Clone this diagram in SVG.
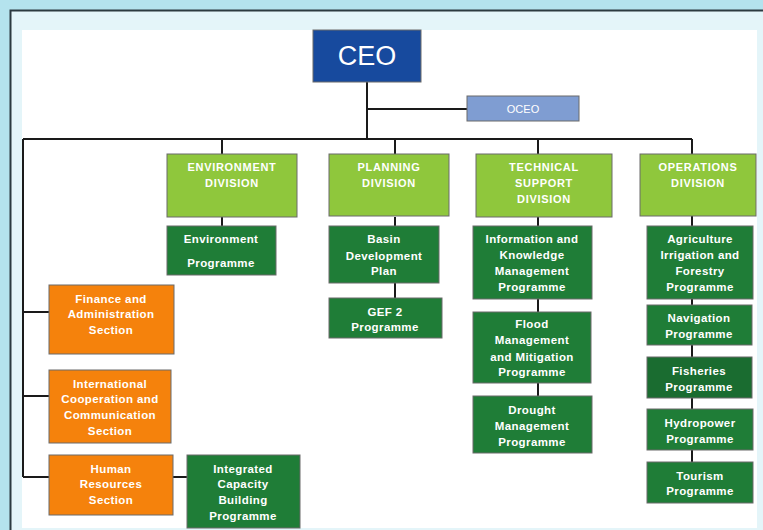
<svg xmlns="http://www.w3.org/2000/svg" width="763" height="530" viewBox="0 0 763 530">
<style>
.box{stroke:#6a6a6a;stroke-width:1}
.ceo{fill:#174a9e}
.oceo{fill:#7f9dd2}
.div{fill:#8fc73c}
.prog{fill:#1f7d37}
.sec{fill:#f5820c}
text{font-family:"Liberation Sans",Arial,sans-serif;fill:#ffffff;text-anchor:middle}
.t{font-size:11.5px;font-weight:bold;letter-spacing:0.4px}
.d{font-size:11px;font-weight:bold;letter-spacing:0.7px}
.c{stroke:#1a1a1a;stroke-width:2;fill:none}
</style>
<rect x="0" y="0" width="763" height="530" fill="#b4e3ee"/>
<rect x="10.5" y="10.5" width="770" height="540" fill="#e4f5f9" stroke="#2c3a40" stroke-width="2"/>
<rect x="22" y="30" width="735" height="498" fill="#ffffff"/>
<g id="connectors">
<path class="c" d="M367 82V139M367 109H467M23 139H692M222 139V154M395 139V154M538 139V154M692 139V154"/>
<path class="c" d="M222 217V226M395 217V226M395 283V298M538 217V226M538 299V312M538 383V396"/>
<path class="c" d="M692 216V226M692 299V305M692 345V357M692 398V409M692 450V462"/>
<path class="c" d="M23 139V477M23 312H49M23 396H49M23 477H49M173 477H187"/>
</g>
<g id="ceo"><rect class="box ceo" x="313" y="30" width="108" height="52"/><text x="367" y="65" style="font-size:27px">CEO</text></g>
<g id="oceo"><rect class="box oceo" x="467" y="96" width="112" height="25"/><text x="523" y="113" style="font-size:11px">OCEO</text></g>
<g id="env-div"><rect class="box div" x="167" y="154" width="130" height="63"/><text class="d" x="232" y="171">ENVIRONMENT</text><text class="d" x="232" y="187">DIVISION</text></g>
<g id="plan-div"><rect class="box div" x="329" y="154" width="120" height="62"/><text class="d" x="389" y="171">PLANNING</text><text class="d" x="389" y="187">DIVISION</text></g>
<g id="tech-div"><rect class="box div" x="476" y="154" width="136" height="63"/><text class="d" x="544" y="171">TECHNICAL</text><text class="d" x="544" y="187">SUPPORT</text><text class="d" x="544" y="203">DIVISION</text></g>
<g id="ops-div"><rect class="box div" x="640" y="154" width="116" height="62"/><text class="d" x="698" y="171">OPERATIONS</text><text class="d" x="698" y="187">DIVISION</text></g>
<g id="env-prog"><rect class="box prog" x="167" y="226" width="109" height="49"/><text class="t" x="221" y="243">Environment</text><text class="t" x="221" y="267">Programme</text></g>
<g id="basin"><rect class="box prog" x="329" y="226" width="110" height="57"/><text class="t" x="384" y="243">Basin</text><text class="t" x="384" y="260">Development</text><text class="t" x="384" y="275">Plan</text></g>
<g id="gef"><rect class="box prog" x="329" y="298" width="113" height="40"/><text class="t" x="385" y="316">GEF 2</text><text class="t" x="385" y="331">Programme</text></g>
<g id="info"><rect class="box prog" x="473" y="226" width="119" height="73"/><text class="t" x="532" y="243">Information and</text><text class="t" x="532" y="259">Knowledge</text><text class="t" x="532" y="275">Management</text><text class="t" x="532" y="291">Programme</text></g>
<g id="flood"><rect class="box prog" x="473" y="312" width="118" height="71"/><text class="t" x="532" y="328">Flood</text><text class="t" x="532" y="344">Management</text><text class="t" x="532" y="361">and Mitigation</text><text class="t" x="532" y="376">Programme</text></g>
<g id="drought"><rect class="box prog" x="473" y="396" width="119" height="57"/><text class="t" x="532" y="414">Drought</text><text class="t" x="532" y="430">Management</text><text class="t" x="532" y="446">Programme</text></g>
<g id="agri"><rect class="box prog" x="647" y="226" width="106" height="73"/><text class="t" x="700" y="243">Agriculture</text><text class="t" x="700" y="259">Irrigation and</text><text class="t" x="700" y="275">Forestry</text><text class="t" x="700" y="291">Programme</text></g>
<g id="nav"><rect class="box prog" x="647" y="305" width="105" height="40"/><text class="t" x="699" y="322">Navigation</text><text class="t" x="699" y="338">Programme</text></g>
<g id="fish"><rect class="box prog" x="647" y="357" width="105" height="41" style="fill:#1a6c30"/><text class="t" x="699" y="375">Fisheries</text><text class="t" x="699" y="391">Programme</text></g>
<g id="hydro"><rect class="box prog" x="647" y="409" width="106" height="41"/><text class="t" x="700" y="427">Hydropower</text><text class="t" x="700" y="443">Programme</text></g>
<g id="tourism"><rect class="box prog" x="647" y="462" width="106" height="41"/><text class="t" x="700" y="480">Tourism</text><text class="t" x="700" y="495">Programme</text></g>
<g id="finance"><rect class="box sec" x="49" y="285" width="125" height="69"/><text class="t" x="111" y="303">Finance and</text><text class="t" x="111" y="318">Administration</text><text class="t" x="111" y="334">Section</text></g>
<g id="intl"><rect class="box sec" x="49" y="370" width="122" height="73"/><text class="t" x="110" y="388">International</text><text class="t" x="110" y="403">Cooperation and</text><text class="t" x="110" y="419">Communication</text><text class="t" x="110" y="435">Section</text></g>
<g id="hr"><rect class="box sec" x="49" y="455" width="124" height="60"/><text class="t" x="111" y="473">Human</text><text class="t" x="111" y="488">Resources</text><text class="t" x="111" y="504">Section</text></g>
<g id="icbp"><rect class="box prog" x="187" y="455" width="113" height="73"/><text class="t" x="243" y="473">Integrated</text><text class="t" x="243" y="488">Capacity</text><text class="t" x="243" y="504">Building</text><text class="t" x="243" y="520">Programme</text></g>
</svg>
